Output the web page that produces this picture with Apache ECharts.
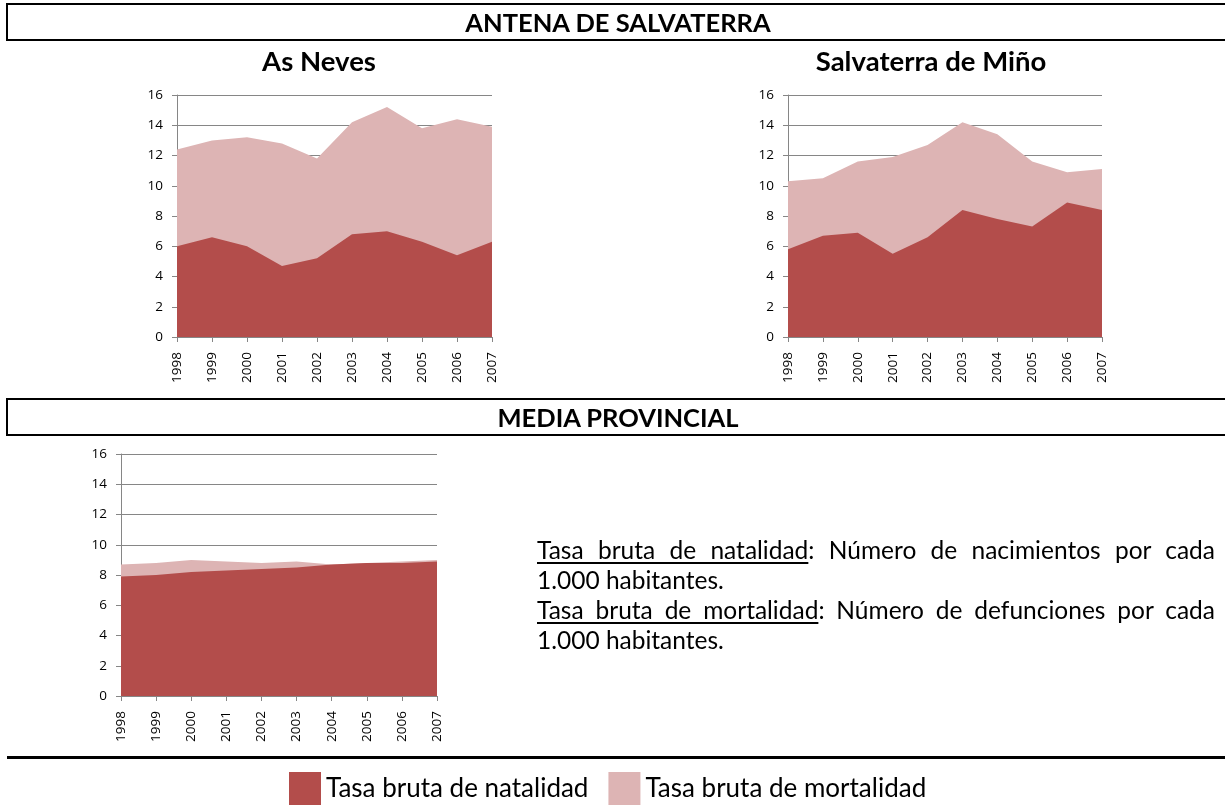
<!DOCTYPE html>
<html lang="es">
<head>
<meta charset="UTF-8">
<title>Antena de Salvaterra</title>
<script src="https://cdn.jsdelivr.net/npm/echarts@6/dist/echarts.min.js"></script>
<style>
    body { margin: 0; background: #fff; font-family: Lato, "Open Sans", sans-serif; }
    #wrap { position: relative; width: 1225px; height: 805px; overflow: hidden; }
    #chart { position: absolute; left: 0; top: 0; width: 1225px; height: 805px; }
    .box {
        position: absolute; left: 6px; width: 1230px; box-sizing: border-box;
        border: 2px solid #000; border-right: none; padding-right: 8px;
        font-weight: bold; font-size: 25.5px; text-align: center;
    }
    .sub { position: absolute; font-weight: bold; font-size: 27.5px; line-height: 34px; transform: translateX(-50%); white-space: nowrap; }
    .rule { position: absolute; left: 7px; width: 1225px; top: 756px; border-top: 3px solid #000; }
    #note { position: absolute; left: 537px; top: 535px; width: 678px; font-size: 24.5px; line-height: 30px; color: #000; }
    #note div { text-align: justify; white-space: nowrap; }
    #note .j { text-align-last: justify; }
    #note u { text-decoration-thickness: 2px; text-underline-offset: 3px; }
</style>
</head>
<body>
<div id="wrap">
    <div id="chart"></div>
    <div class="box" style="top:3px;height:38px;line-height:34px;">ANTENA DE SALVATERRA</div>
    <div class="sub" style="left:319px;top:44px;">As Neves</div>
    <div class="sub" style="left:931px;top:44px;">Salvaterra de Miño</div>
    <div class="box" style="top:398px;height:38px;line-height:34px;">MEDIA PROVINCIAL</div>
    <div id="note">
        <div class="j"><u>Tasa bruta de natalidad</u>: Número de nacimientos por cada</div>
        <div>1.000 habitantes.</div>
        <div class="j"><u>Tasa bruta de mortalidad</u>: Número de defunciones por cada</div>
        <div>1.000 habitantes.</div>
    </div>
    <div class="rule"></div>
</div>

<script type="text/javascript">
    // datos
    var years = ['1998', '1999', '2000', '2001', '2002', '2003', '2004', '2005', '2006', '2007'];
    var yTicks = [0, 2, 4, 6, 8, 10, 12, 14, 16];

    var nevesNatalidad = [6.0, 6.6, 6.0, 4.7, 5.2, 6.8, 7.0, 6.3, 5.4, 6.3];
    var nevesMortalidad = [12.4, 13.0, 13.2, 12.8, 11.8, 14.2, 15.2, 13.8, 14.4, 13.9];

    var salvaNatalidad = [5.8, 6.7, 6.9, 5.5, 6.6, 8.4, 7.8, 7.3, 8.9, 8.4];
    var salvaMortalidad = [10.3, 10.5, 11.6, 11.9, 12.7, 14.2, 13.4, 11.6, 10.9, 11.1];

    var provNatalidad = [7.9, 8.0, 8.2, 8.3, 8.4, 8.5, 8.7, 8.8, 8.8, 8.9];
    var provMortalidad = [8.7, 8.8, 9.0, 8.9, 8.8, 8.9, 8.7, 8.8, 8.9, 9.0];

    var NAT = 'Tasa bruta de natalidad';
    var MOR = 'Tasa bruta de mortalidad';
    var colorNat = '#b34d4b';
    var colorMor = '#ddb4b4';
    var axisGray = '#868686';

    var grids = [
        { left: 177, top: 95, width: 315, height: 242 },
        { left: 788, top: 95, width: 314, height: 242 },
        { left: 121, top: 454, width: 316, height: 242 }
    ];
    var pairs = [
        [nevesNatalidad, nevesMortalidad],
        [salvaNatalidad, salvaMortalidad],
        [provNatalidad, provMortalidad]
    ];

    var xAxes = [], yAxes = [], series = [];
    grids.forEach(function (g, i) {
        xAxes.push({
            type: 'category', gridIndex: i, data: years, boundaryGap: false,
            axisLine: { lineStyle: { color: axisGray } },
            axisTick: { show: true, length: 5, lineStyle: { color: axisGray } },
            axisLabel: { rotate: 90, interval: 0, margin: 15, color: '#000', fontSize: 13.5, fontFamily: 'Open Sans' }
        });
        yAxes.push({
            type: 'value', gridIndex: i, min: yTicks[0], max: yTicks[yTicks.length - 1], interval: 2,
            axisLine: { show: true, lineStyle: { color: axisGray } },
            axisTick: { show: true, length: 5, lineStyle: { color: axisGray } },
            splitLine: { lineStyle: { color: axisGray, width: 1 } },
            axisLabel: { margin: 14, color: '#000', fontSize: 13.5, fontFamily: 'Open Sans' }
        });
        // mortalidad detras, natalidad delante
        series.push({
            name: MOR, type: 'line', xAxisIndex: i, yAxisIndex: i, data: pairs[i][1],
            showSymbol: false, lineStyle: { width: 0 }, itemStyle: { color: colorMor },
            areaStyle: { color: colorMor, opacity: 1 }, silent: true
        });
        series.push({
            name: NAT, type: 'line', xAxisIndex: i, yAxisIndex: i, data: pairs[i][0],
            showSymbol: false, lineStyle: { width: 0 }, itemStyle: { color: colorNat },
            areaStyle: { color: colorNat, opacity: 1 }, silent: true
        });
    });

    var myChart = echarts.init(document.getElementById('chart'));
    var option = {
        animation: false,
        grid: grids,
        xAxis: xAxes,
        yAxis: yAxes,
        legend: {
            data: [NAT, MOR],
            left: 284, top: 767,
            icon: 'rect', itemWidth: 32, itemHeight: 33, itemGap: 20,
            textStyle: { fontSize: 26, color: '#000', fontFamily: 'Lato' },
            selectedMode: false
        },
        series: series
    };
    myChart.setOption(option);
</script>
</body>
</html>
